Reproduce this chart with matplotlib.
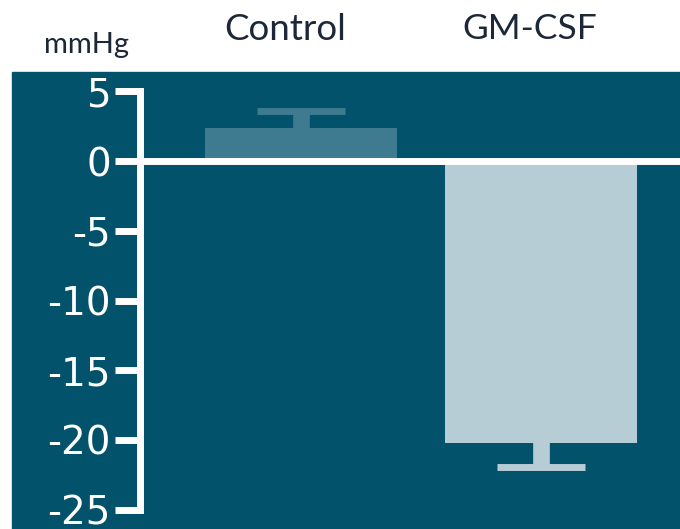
import numpy as np
import matplotlib.pyplot as plt
from matplotlib.patches import Rectangle

groups = ['Control', 'GM-CSF']
means = [2.34, -20.2]
errs = [1.21, 1.7]
bar_colors = ['#3e7b90', '#b7cdd5']
yticks = [5, 0, -5, -10, -15, -20, -25]

bg = '#03526c'
ink = '#1c2838'

fig = plt.figure(figsize=(6.8, 5.29), dpi=100)

# dark panel behind the plot
fig.patches.append(Rectangle((12 / 680, 0), 1 - 12 / 680, 457 / 529,
                             transform=fig.transFigure, color=bg, zorder=-5))

ax = fig.add_axes([140 / 680, 0, 1 - 140 / 680, 457 / 529])
ax.set_facecolor('none')

x = np.arange(len(groups))
ax.bar(x, means, width=0.8, color=bar_colors, zorder=2)
# symmetric errors: the inner cap is hidden inside the bar (same colour)
for i in range(len(groups)):
    ax.errorbar(x[i], means[i], yerr=errs[i], fmt='none',
                ecolor=bar_colors[i], elinewidth=12, capsize=32, capthick=5, zorder=2)

ax.axhline(0, color='white', lw=5, zorder=3)

ax.set_xlim(-0.672, 1.58)
ax.set_ylim(-26.38, 6.38)

for s in ['top', 'right', 'bottom']:
    ax.spines[s].set_visible(False)
ax.spines['left'].set_color('white')
ax.spines['left'].set_linewidth(5)
ax.spines['left'].set_bounds(-25, 5)
ax.spines['left'].set_capstyle('projecting')

ax.set_xticks([])
ax.set_yticks(yticks)
ax.set_yticklabels([str(t) for t in yticks])
ax.tick_params(axis='y', colors='white', length=18, width=5, pad=3, labelsize=28)
for lab in ax.get_yticklabels():
    lab.set_family('DejaVu Sans')

fig.text(86 / 680, 1 - 45 / 529, 'mmHg', ha='center', va='center',
         family='Lato', fontsize=21, color=ink)
fig.text(285 / 680, 1 - 29 / 529, groups[0], ha='center', va='center',
         family='Lato', fontsize=26.5, color=ink)
fig.text(530 / 680, 1 - 29 / 529, groups[1], ha='center', va='center',
         family='Lato', fontsize=25.5, color=ink)

fig.savefig('out.png', dpi=100)
